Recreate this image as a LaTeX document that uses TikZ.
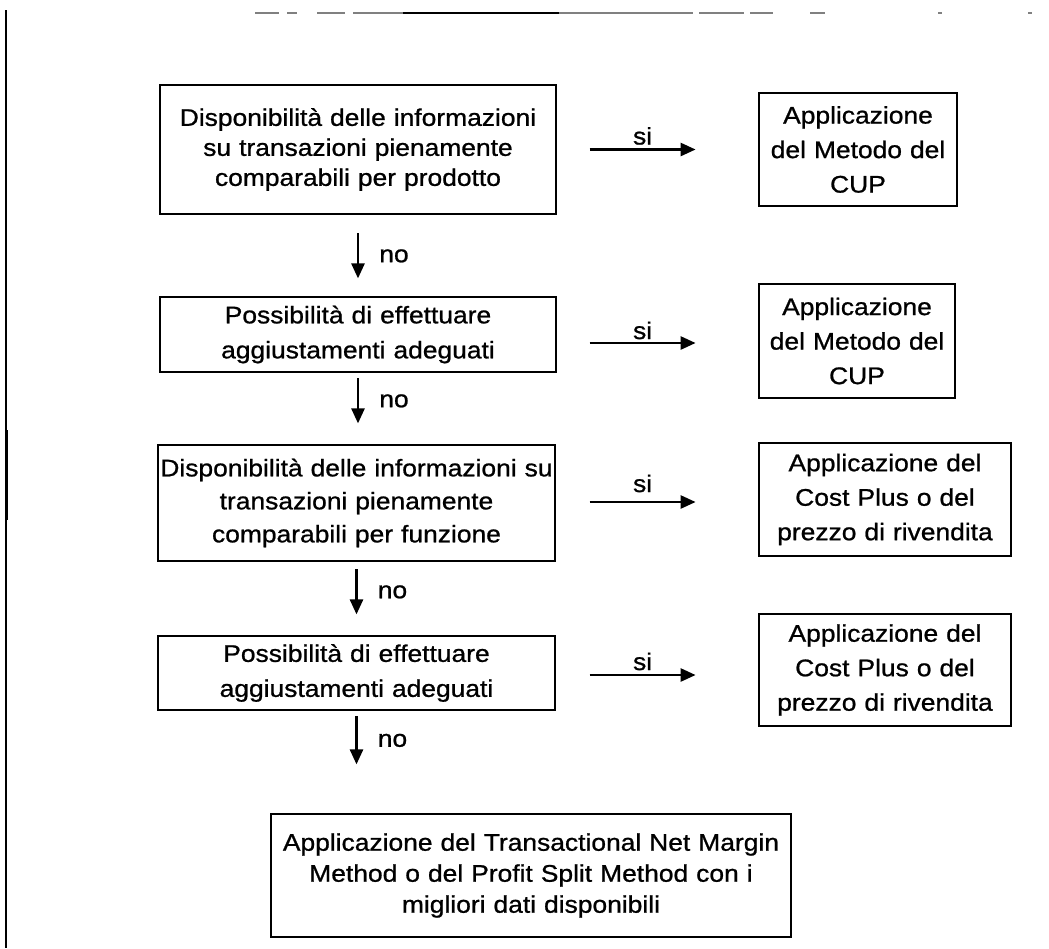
\documentclass[tikz,border=0pt]{standalone}
\usepackage{fontspec}
\setmainfont{Liberation Sans}[FakeStretch=1.1,FakeBold=0.9]
\usetikzlibrary{arrows.meta}

\tikzset{
  box/.style={draw, line width=2.8pt, inner sep=0pt, align=center,
              font=\fontsize{24}{30}\selectfont},
  arr/.style={line width=2.6pt, -{Triangle[length=15pt,width=13pt]}},
  lbl/.style={inner sep=0pt, font=\fontsize{24}{30}\selectfont},
  edge/.style={line width=1.8pt}
}

\begin{document}
\begin{tikzpicture}[x=1pt,y=-1pt]
\useasboundingbox (0,0) rectangle (1049,948);

% page edges of the sheet
\draw[edge] (6,10) -- (6,948);
\draw[line width=3pt] (6,430) -- (6,520);
\draw[line width=1.4pt, gray] (255,13) -- (279,13) (287,13) -- (297,13)
  (317,13) -- (345,13) (353,13) -- (403,13) (559,13) -- (693,13)
  (699,13) -- (744,13) (750,13) -- (773,13) (810,13) -- (825,13)
  (938,13) -- (942,13) (1028,13) -- (1032,13);
\draw[line width=2pt] (403,13) -- (559,13);

% decision steps
\node[box, text width=396pt, minimum height=129pt, font=\fontsize{24}{30}\selectfont]
  (L1) at (358,149.5) {Disponibilità delle informazioni\\su transazioni pienamente\\comparabili per prodotto};
\node[box, text width=396pt, minimum height=75pt, font=\fontsize{24}{35}\selectfont]
  (L2) at (358,334.5) {Possibilità di effettuare\\aggiustamenti adeguati};
\node[box, text width=397pt, minimum height=116pt, font=\fontsize{24}{33}\selectfont]
  (L3) at (356.5,503) {Disponibilità delle informazioni su\\transazioni pienamente\\comparabili per funzione};
\node[box, text width=397pt, minimum height=74pt, font=\fontsize{24}{35}\selectfont]
  (L4) at (356.5,673) {Possibilità di effettuare\\aggiustamenti adeguati};

% outcomes
\node[box, text width=198pt, minimum height=113pt, font=\fontsize{24}{34.5}\selectfont]
  (R1) at (858,149.5) {Applicazione\\del Metodo del\\CUP};
\node[box, text width=196pt, minimum height=114pt, font=\fontsize{24}{34.5}\selectfont]
  (R2) at (857,341) {Applicazione\\del Metodo del\\CUP};
\node[box, text width=252pt, minimum height=113pt, font=\fontsize{24}{34.5}\selectfont]
  (R3) at (885,499.5) {Applicazione del\\Cost Plus o del\\prezzo di rivendita};
\node[box, text width=252pt, minimum height=112pt, font=\fontsize{24}{34.5}\selectfont]
  (R4) at (885,670) {Applicazione del\\Cost Plus o del\\prezzo di rivendita};

\node[box, text width=520pt, minimum height=123pt, font=\fontsize{24}{31}\selectfont]
  (B) at (531,875.5) {Applicazione del Transactional Net Margin\\Method o del Profit Split Method con i\\migliori dati disponibili};

% "si" branches
\draw[arr] ([xshift=-168pt]R1.west) -- ([xshift=-62pt]R1.west)
  node[lbl, midway, anchor=base, yshift=5pt] {si};
\draw[arr] ([xshift=-168pt,yshift=-2pt]R2.west) -- ([xshift=-62pt,yshift=-2pt]R2.west)
  node[lbl, midway, anchor=base, yshift=4pt] {si};
\draw[arr] ([xshift=-168pt,yshift=-2.5pt]R3.west) -- ([xshift=-62pt,yshift=-2.5pt]R3.west)
  node[lbl, midway, anchor=base, yshift=10pt] {si};
\draw[arr] ([xshift=-168pt,yshift=-5pt]R4.west) -- ([xshift=-62pt,yshift=-5pt]R4.west)
  node[lbl, midway, anchor=base, yshift=5pt] {si};

% "no" branches
\draw[arr] ([yshift=-18pt]L1.south) -- ++(0,45)
  node[lbl, midway, anchor=west, xshift=20pt] {no};
\draw[arr] ([yshift=-5pt]L2.south) -- ++(0,45)
  node[lbl, midway, anchor=west, xshift=20pt] {no};
\draw[arr] ([yshift=-7pt]L3.south) -- ++(0,45)
  node[lbl, midway, anchor=west, xshift=20pt] {no};
\draw[arr] ([yshift=-5pt]L4.south) -- ++(0,48)
  node[lbl, midway, anchor=west, xshift=20pt] {no};
\end{tikzpicture}
\end{document}
